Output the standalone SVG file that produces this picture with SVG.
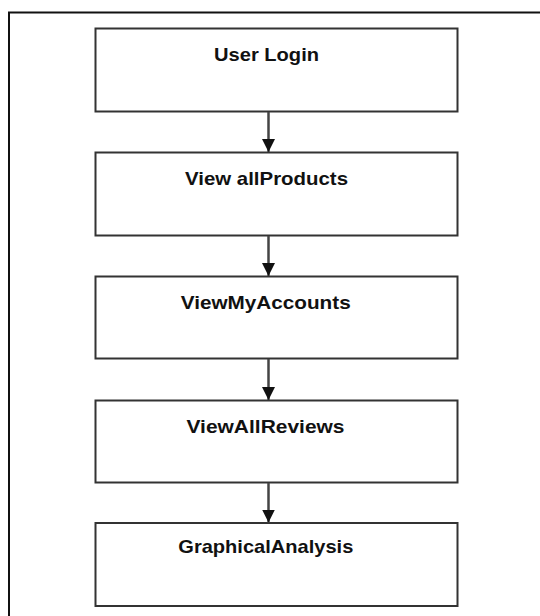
<svg xmlns="http://www.w3.org/2000/svg" width="540" height="616" viewBox="0 0 540 616">
  <style>
    .box { fill: #ffffff; stroke: #333333; stroke-width: 2; }
    .lbl { font-family: "Liberation Sans", Arial, sans-serif; font-weight: bold; font-size: 19px; fill: #111111; text-anchor: middle; }
    .conn { stroke: #444444; stroke-width: 2.5; fill: none; }
  </style>
  <defs>
    <marker id="arrow" markerUnits="userSpaceOnUse" markerWidth="14" markerHeight="16" refX="13" refY="6.5" orient="auto">
      <path d="M0,0 L13,6.5 L0,13 Z" fill="#111111"/>
    </marker>
  </defs>
  <rect width="540" height="616" fill="#ffffff"/>
  <path d="M9,616 V12.5 H540" fill="none" stroke="#111111" stroke-width="2"/>

  <g id="node-user-login">
    <rect class="box" x="95.5" y="28.5" width="362" height="83"/>
    <text class="lbl" x="266.5" y="61" textLength="105" lengthAdjust="spacingAndGlyphs">User Login</text>
  </g>
  <g id="node-view-all-products">
    <rect class="box" x="95.5" y="152.5" width="362" height="83"/>
    <text class="lbl" x="266.5" y="185" textLength="163" lengthAdjust="spacingAndGlyphs">View allProducts</text>
  </g>
  <g id="node-view-my-accounts">
    <rect class="box" x="95.5" y="276.5" width="362" height="82"/>
    <text class="lbl" x="265.7" y="308.5" textLength="170" lengthAdjust="spacingAndGlyphs">ViewMyAccounts</text>
  </g>
  <g id="node-view-all-reviews">
    <rect class="box" x="95.5" y="400.5" width="362" height="82"/>
    <text class="lbl" x="265.5" y="432.5" textLength="158" lengthAdjust="spacingAndGlyphs">ViewAllReviews</text>
  </g>
  <g id="node-graphical-analysis">
    <rect class="box" x="95.5" y="523" width="362" height="83"/>
    <text class="lbl" x="265.8" y="553" textLength="175" lengthAdjust="spacingAndGlyphs">GraphicalAnalysis</text>
  </g>

  <g id="connectors">
    <line class="conn" x1="268.5" y1="112" x2="268.5" y2="152" marker-end="url(#arrow)"/>
    <line class="conn" x1="268.5" y1="236" x2="268.5" y2="276" marker-end="url(#arrow)"/>
    <line class="conn" x1="268.5" y1="359" x2="268.5" y2="400" marker-end="url(#arrow)"/>
    <line class="conn" x1="268.5" y1="483" x2="268.5" y2="522.5" marker-end="url(#arrow)"/>
  </g>
</svg>
